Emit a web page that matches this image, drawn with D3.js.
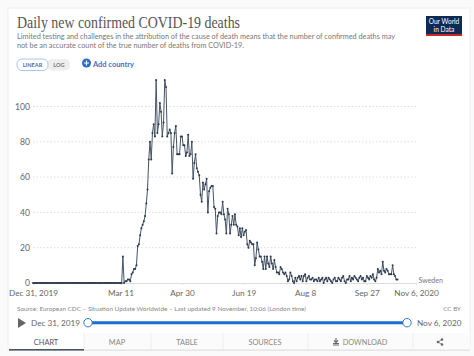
<!DOCTYPE html>
<html><head><meta charset="utf-8">
<script src="https://cdn.jsdelivr.net/npm/d3@7/dist/d3.min.js"></script>
<style>html,body{margin:0;padding:0;background:#fafafa}svg{display:block}text{font-family:Lato,sans-serif}</style>
</head><body><svg id="c" width="474" height="356"></svg>
<script>
const startDate = "2019-12-31";
const deaths = [
0,0,0,0,0,0,0,0,0,0, 0,0,0,0,0,0,0,0,0,0,
0,0,0,0,0,0,0,0,0,0, 0,0,0,0,0,0,0,0,0,0,
0,0,0,0,0,0,0,0,0,0, 0,0,0,0,0,0,0,0,0,0,
0,0,0,0,0,0,0,0,0,0, 0,0,0,15,0,1,1,2,2,1,
5,6,8,8,10,21,22,27,31,33, 35,38,45,53,70,80,70,85,90,83,
115,85,90,102,97,83,91,115,111,83, 85,87,85,62,77,85,89,73,73,73,
83,83,78,78,72,74,84,72,73,80, 59,68,73,65,63,61,50,46,57,53,
56,59,40,52,54,55,55,43,42,28, 38,40,40,39,46,39,36,28,42,39,
28,33,38,33,39,33,32,27,31,26, 31,27,29,30,22,20,24,23,22,22,
10,14,23,19,15,15,12,8,15,8, 15,11,9,15,11,8,13,9,6,6,
5,9,8,6,5,6,4,1,2,6, 4,1,0,3,1,3,4,2,4,1,
4,5,1,3,4,2,2,3,1,2, 2,1,3,1,2,3,0,2,3,1,
3,2,1,0,2,3,1,1,3,2, 1,3,4,1,0,2,2,4,1,3,
2,4,3,2,1,3,4,2,3,1, 1,4,3,2,4,3,5,2,1,3,
8,6,7,5,12,7,6,8,7,5, 5,5,10,5,4,2,2
];
const yTicks = [0,20,40,60,80,100];
const xTickDates = ["2019-12-31","2020-03-11","2020-04-30","2020-06-19","2020-08-08","2020-09-27","2020-11-06"];
const xTickLabels = ["Dec 31, 2019","Mar 11","Apr 30","Jun 19","Aug 8","Sep 27","Nov 6, 2020"];
const tabs = ["CHART","MAP","TABLE","SOURCES","DOWNLOAD"];
const tabEdges = [9,84,151,223,308,413,461];
const subtitle = ["Limited testing and challenges in the attribution of the cause of death means that the number of confirmed deaths may","not be an accurate count of the true number of deaths from COVID-19."];
const subtitleWidths = [378,227];

const svg = d3.select("#c");
const day0 = new Date(startDate+"T00:00:00Z");
const dates = deaths.map((_,i)=>d3.utcDay.offset(day0,i));
const x = d3.scaleUtc().domain([day0,new Date(xTickDates[6]+"T00:00:00Z")]).range([33,416]);
const y = d3.scaleLinear().domain([0,100]).range([283,106.5]);
const grey="#666";

svg.append("rect").attr("x",8).attr("y",8).attr("width",462).attr("height",342).attr("fill","#fff").attr("stroke","#eee");

svg.append("text").attr("x",17).attr("y",28).attr("font-size",16).attr("fill","#555")
  .style("font-family","'Liberation Serif',serif").attr("textLength",223).attr("lengthAdjust","spacingAndGlyphs").text("Daily new confirmed COVID-19 deaths");
subtitle.forEach((s,i)=>svg.append("text").attr("x",17).attr("y",39+i*8.7).attr("font-size",7.4).attr("fill","#777")
  .attr("textLength",subtitleWidths[i]).attr("lengthAdjust","spacingAndGlyphs").text(s));

svg.append("rect").attr("x",426).attr("y",16).attr("width",36).attr("height",20).attr("fill","#0b2a55");
svg.append("rect").attr("x",426).attr("y",34).attr("width",36).attr("height",2).attr("fill","#c8281e");
["Our World","in Data"].forEach((s,i)=>svg.append("text").attr("x",444).attr("y",24+i*7.5).attr("text-anchor","middle").attr("font-size",6.6).attr("fill","#fff").text(s));

svg.append("rect").attr("x",47).attr("y",59).attr("width",23).attr("height",11.5).attr("rx",5).attr("fill","#eee");
svg.append("rect").attr("x",17).attr("y",59).attr("width",31).attr("height",11.5).attr("rx",5).attr("fill","#fff").attr("stroke","#a9c8ea");
svg.append("text").attr("x",32.5).attr("y",67).attr("text-anchor","middle").attr("font-size",5.6).attr("font-weight",700).attr("fill","#4a6f9c").text("LINEAR");
svg.append("text").attr("x",59).attr("y",67).attr("text-anchor","middle").attr("font-size",5.6).attr("font-weight",700).attr("fill","#777").text("LOG");
svg.append("circle").attr("cx",86.5).attr("cy",63).attr("r",4.5).attr("fill","#2a6dc4");
svg.append("path").attr("d","M84 63H89M86.5 60.5V65.5").attr("stroke","#fff").attr("stroke-width",1.2);
svg.append("text").attr("x",93).attr("y",66.5).attr("font-size",8.2).attr("font-weight",700).attr("fill","#3c73c6")
  .attr("textLength",41).attr("lengthAdjust","spacingAndGlyphs").text("Add country");

const yAxis = svg.append("g").attr("transform","translate(33,0)")
  .call(d3.axisLeft(y).tickValues(yTicks).tickSize(0).tickPadding(3));
yAxis.select(".domain").remove();
yAxis.selectAll("text").attr("font-size",8.6).attr("fill",grey).style("font-family","Lato");
svg.append("g").selectAll("line").data(yTicks.slice(1)).join("line")
  .attr("x1",33).attr("x2",416).attr("y1",d=>y(d)).attr("y2",d=>y(d))
  .attr("stroke","#ddd").attr("stroke-width",1).attr("stroke-dasharray","1.5,2");

const xAxis = svg.append("g").attr("transform","translate(0,283)")
  .call(d3.axisBottom(x).tickValues(xTickDates.map(d=>new Date(d+"T00:00:00Z"))).tickSize(2).tickPadding(5)
    .tickFormat((d,i)=>xTickLabels[i]));
xAxis.select(".domain").attr("stroke","#ddd");
xAxis.selectAll("line").attr("stroke","#ddd");
xAxis.selectAll("text").attr("font-size",8.2).attr("fill",grey).style("font-family","Lato");

const line = d3.line().x((d,i)=>x(dates[i])).y(d=>y(d));
svg.append("path").datum(deaths).attr("d",line).attr("fill","none").attr("stroke","#465467").attr("stroke-width",1);
svg.append("g").selectAll("circle").data(deaths).join("circle")
  .attr("cx",(d,i)=>x(dates[i])).attr("cy",d=>y(d)).attr("r",1).attr("fill","#2e3b4e");
svg.append("text").attr("x",418.5).attr("y",283).attr("font-size",7).attr("fill","#777").text("Sweden");

svg.append("text").attr("x",17).attr("y",311).attr("font-size",6.3).attr("fill","#888")
  .attr("textLength",289).attr("lengthAdjust","spacingAndGlyphs")
  .text("Source: European CDC – Situation Update Worldwide – Last updated 9 November, 10:06 (London time)");
svg.append("text").attr("x",461).attr("y",311).attr("text-anchor","end").attr("font-size",6.3).attr("fill","#888").text("CC BY");

svg.append("path").attr("d","M18 318L26 323L18 328Z").attr("fill","#666");
svg.append("text").attr("x",31).attr("y",326).attr("font-size",8.2).attr("fill",grey).text(xTickLabels[0]);
svg.append("text").attr("x",417).attr("y",326).attr("font-size",8.2).attr("fill",grey).text(xTickLabels[6]);
svg.append("line").attr("x1",88).attr("x2",407).attr("y1",322.7).attr("y2",322.7).attr("stroke","#1a6fd0").attr("stroke-width",3);
[88,407].forEach(cx=>svg.append("circle").attr("cx",cx).attr("cy",322.7).attr("r",4.2).attr("fill","#fff").attr("stroke","#2a78d0").attr("stroke-width",1));

svg.append("rect").attr("x",84).attr("y",333).attr("width",386).attr("height",17).attr("fill","#fbfbfb");
tabEdges.slice(1,-1).forEach(e=>svg.append("line").attr("x1",e).attr("x2",e).attr("y1",333).attr("y2",350).attr("stroke","#eee"));
const tabCentres=[46,117,187,265,365];
tabs.forEach((t,i)=>svg.append("text").attr("x",tabCentres[i]).attr("y",345).attr("text-anchor","middle")
  .attr("font-size",7.4).attr("fill",i==0?"#555":"#888").text(t));
svg.append("path").attr("d","M333 343.5h6M336 338v4M334 340.5l2 2 2-2M333 345h6").attr("stroke","#666").attr("fill","none").attr("stroke-width",1.1);
svg.append("g").attr("fill","#666").selectAll("circle").data([[438,342],[442,339.5],[442,344.5]]).join("circle")
  .attr("cx",d=>d[0]).attr("cy",d=>d[1]).attr("r",1.3);
svg.append("path").attr("d","M442 339.5L438 342L442 344.5").attr("stroke","#666").attr("fill","none").attr("stroke-width",.7);
svg.append("rect").attr("x",9).attr("y",349).attr("width",75).attr("height",1.6).attr("fill","#4a5563");
svg.append("rect").attr("x",84).attr("y",349.6).attr("width",386).attr("height",1).attr("fill","#ddd");
</script></body></html>
